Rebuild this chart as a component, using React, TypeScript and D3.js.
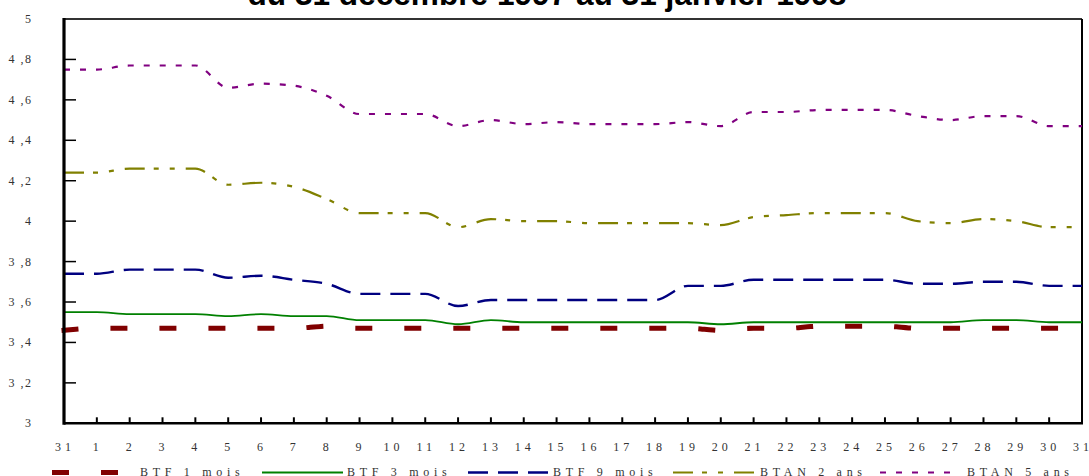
import React from "react";
import * as d3 from "d3";

const dayLabels = ["31","1","2","3","4","5","6","7","8","9","10","11","12","13","14","15","16","17","18","19","20","21","22","23","24","25","26","27","28","29","30","31"];
const yTickValues = [3, 3.2, 3.4, 3.6, 3.8, 4, 4.2, 4.4, 4.6, 4.8, 5];
const yTickLabels = ["3", "3 ,2", "3 ,4", "3 ,6", "3 ,8", "4", "4 ,2", "4 ,4", "4 ,6", "4 ,8", "5"];

const btf1 = [3.46,3.47,3.47,3.47,3.47,3.47,3.47,3.47,3.48,3.47,3.47,3.47,3.47,3.47,3.47,3.47,3.47,3.47,3.47,3.47,3.46,3.47,3.47,3.48,3.48,3.48,3.47,3.47,3.47,3.47,3.47,3.47];
const btf3 = [3.55,3.55,3.54,3.54,3.54,3.53,3.54,3.53,3.53,3.51,3.51,3.51,3.49,3.51,3.50,3.50,3.50,3.50,3.50,3.50,3.49,3.50,3.50,3.50,3.50,3.50,3.50,3.50,3.51,3.51,3.50,3.50];
const btf9 = [3.74,3.74,3.76,3.76,3.76,3.72,3.73,3.71,3.69,3.64,3.64,3.64,3.58,3.61,3.61,3.61,3.61,3.61,3.61,3.68,3.68,3.71,3.71,3.71,3.71,3.71,3.69,3.69,3.70,3.70,3.68,3.68];
const btan2 = [4.24,4.24,4.26,4.26,4.26,4.18,4.19,4.17,4.11,4.04,4.04,4.04,3.97,4.01,4.00,4.00,3.99,3.99,3.99,3.99,3.98,4.02,4.03,4.04,4.04,4.04,4.00,3.99,4.01,4.00,3.97,3.97];
const btan5 = [4.75,4.75,4.77,4.77,4.77,4.66,4.68,4.67,4.62,4.53,4.53,4.53,4.47,4.50,4.48,4.49,4.48,4.48,4.48,4.49,4.47,4.54,4.54,4.55,4.55,4.55,4.52,4.50,4.52,4.52,4.47,4.47];

const seriesNames = ["BTF 1 mois", "BTF 3 mois", "BTF 9 mois", "BTAN 2 ans", "BTAN 5 ans"];
const title = "du 31 décembre 1997 au 31 janvier 1998";

const styles = [
  { color: "#800000", width: 5, dash: "12,37", cap: "square" },
  { color: "#008000", width: 1.8, dash: "none", cap: "butt" },
  { color: "#000080", width: 2.4, dash: "20,10", cap: "butt" },
  { color: "#808000", width: 2.2, dash: "20,9,5,11,5,11", cap: "butt" },
  { color: "#800080", width: 2.2, dash: "6,10", cap: "butt" },
];
const legendPos = [
  { x1: 54.5, x2: 116, tx: 140 },
  { x1: 262, x2: 343, tx: 347 },
  { x1: 468, x2: 548, tx: 553 },
  { x1: 673, x2: 754, tx: 760 },
  { x1: 880, x2: 954, tx: 967 },
];

export default function App() {
  const W = 1089, H = 476;
  const left = 64, right = 1082, top = 19, bottom = 423.3;
  const x = d3.scaleLinear().domain([0, dayLabels.length - 1]).range([left, right]);
  const y = d3.scaleLinear().domain([3, 5]).range([bottom, top]);
  const line = d3.line<number>().x((_, i) => x(i)).y((d) => y(d)).curve(d3.curveMonotoneX);
  const all = [btf1, btf3, btf9, btan2, btan5];
  const serif = "'Liberation Serif', 'Times New Roman', serif";

  return (
    <svg width={W} height={H} style={{ position: "absolute", left: 0, top: 0, background: "#fff" }}>
      <rect x={0} y={0} width={W} height={H} fill="#fff" />
      <text x={547} y={5} textAnchor="middle" fontFamily="'Liberation Sans', Arial, sans-serif" fontWeight="bold" fontSize={31.6} fill="#000">{title}</text>

      {/* frame */}
      <line x1={left} x2={right} y1={top} y2={top} stroke="#333" strokeWidth={2} />
      <line x1={right} x2={right} y1={top} y2={bottom} stroke="#000" strokeWidth={2} />

      {/* y ticks */}
      {yTickValues.map((v, i) => (
        <g key={"yt" + i}>
          {i > 0 && i < yTickValues.length - 1 && (
            <line x1={left} x2={left + 12} y1={y(v)} y2={y(v)} stroke="#000" strokeWidth={1.5} />
          )}
          <text x={32.5} y={y(v) + 4} textAnchor="end" fontFamily={serif} fontSize={12} letterSpacing={1.5} fill="#333">{yTickLabels[i]}</text>
        </g>
      ))}

      {/* x ticks */}
      {dayLabels.map((d, i) => (
        <g key={"xt" + i}>
          {i > 0 && i < dayLabels.length - 1 && (
            <line x1={x(i)} x2={x(i)} y1={bottom} y2={bottom - 6} stroke="#000" strokeWidth={2} />
          )}
          <text x={x(i) + 1} y={451} textAnchor="middle" fontFamily={serif} fontSize={12} letterSpacing={4} fill="#333">{d}</text>
        </g>
      ))}

      {/* series */}
      {all.map((vals, k) => (
        <path key={"s" + k} d={line(vals) || ""} fill="none" stroke={styles[k].color} strokeWidth={styles[k].width}
          strokeDasharray={styles[k].dash} strokeLinecap={styles[k].cap as any} />
      ))}

      {/* axes */}
      <line x1={left} x2={left} y1={top - 1} y2={bottom + 1.5} stroke="#000" strokeWidth={3.2} />
      <line x1={left} x2={right + 1} y1={bottom} y2={bottom} stroke="#000" strokeWidth={2.6} />

      {/* legend */}
      {seriesNames.map((n, k) => (
        <g key={"lg" + k}>
          <line x1={legendPos[k].x1} x2={legendPos[k].x2} y1={472.5} y2={472.5} stroke={styles[k].color}
            strokeWidth={styles[k].width} strokeDasharray={styles[k].dash} strokeLinecap={styles[k].cap as any} />
          <text x={legendPos[k].tx} y={476} fontFamily={serif} fontSize={12} letterSpacing={4.7} fill="#333">{n}</text>
        </g>
      ))}
    </svg>
  );
}
